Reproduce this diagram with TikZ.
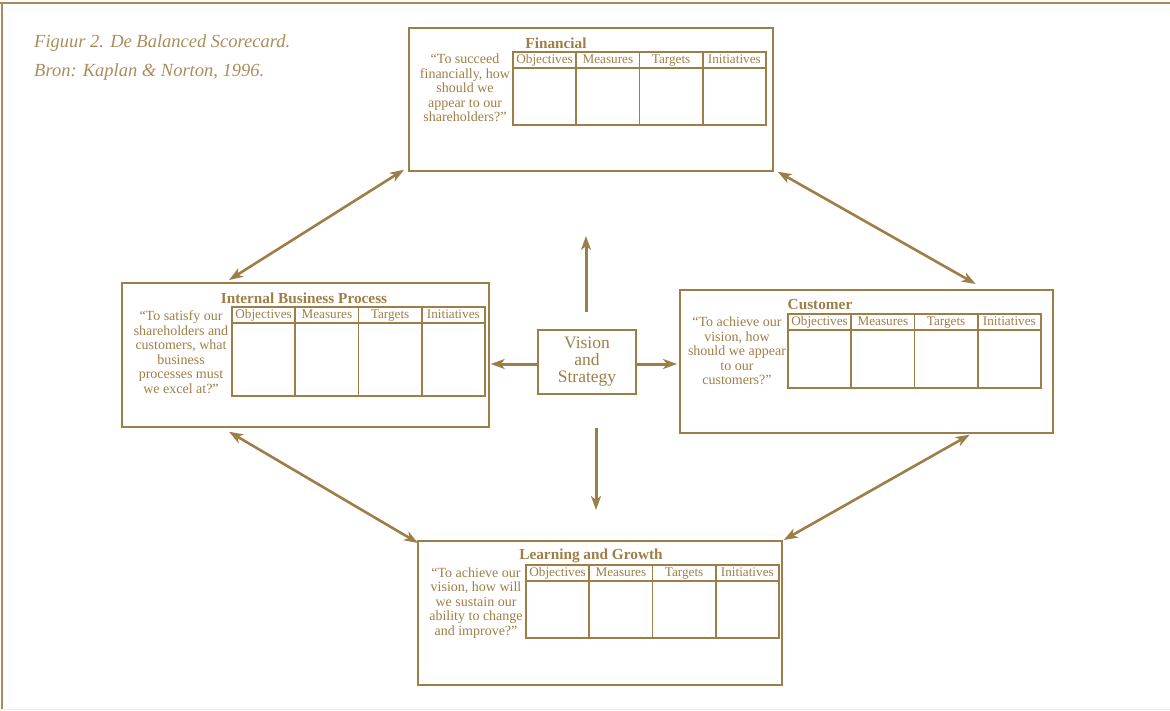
\documentclass[tikz,border=0pt]{standalone}
\usepackage{fontspec}
\setmainfont{Liberation Serif}
\definecolor{ScoreColor}{RGB}{158,126,72}
\definecolor{CaptionColor}{RGB}{170,140,92}
\usepackage{tikz}
\usetikzlibrary{arrows.meta, positioning, calc}
\tikzstyle{arrow} = [line width=3pt, ScoreColor, -{Stealth[length=14pt, width=10pt, inset=4pt]}]
\tikzstyle{dblarrow} = [line width=2.6pt, ScoreColor, {Stealth[length=14pt, width=10pt, inset=4pt]}-{Stealth[length=14pt, width=10pt, inset=4pt]}]
\tikzstyle{cardbox} = [draw=ScoreColor, line width=1.7pt, rectangle, anchor=north west, inner sep=0pt]
\tikzstyle{cardtitle} = [font=\fontsize{15.3}{17}\selectfont\bfseries, text=ScoreColor, inner sep=0pt]
\tikzstyle{question} = [align=center, font=\fontsize{14}{14.5}\selectfont, text=ScoreColor, inner sep=0pt]
\tikzstyle{gridline} = [draw=ScoreColor, line width=1.7pt]
\tikzstyle{gridhead} = [font=\fontsize{13.2}{15}\selectfont, text=ScoreColor, inner sep=0pt, text height=9pt, text depth=2.5pt]
\tikzstyle{caption} = [font=\fontsize{18.5}{21}\selectfont\itshape, text=CaptionColor, anchor=west, inner sep=0pt]
\tikzstyle{visionbox} = [draw=ScoreColor, line width=1.7pt, minimum width=98pt, minimum height=64pt, align=center, font=\fontsize{17.5}{17}\selectfont, text=ScoreColor, inner sep=0pt]

% table with four columns: name, x, y, body height
\newcommand{\cardgrid}[4]{%
  \draw[gridline] (#2,#3) rectangle ++(253,16+#4);
  \draw[gridline] (#2,#3+16) -- ++(253,0);
  \foreach \col [count=\i from 0] in {Objectives,Measures,Targets,Initiatives} {
    \ifnum\i>0 \draw[gridline] (#2+63.25*\i,#3) -- ++(0,16+#4); \fi
    \node[gridhead] (#1-h\i) at (#2+31.6+63.25*\i,#3+8.5) {\col};
  }}

\begin{document}
\begin{tikzpicture}[x=1pt, y=-1pt]
  \useasboundingbox (0,0) rectangle (1170,710);

  % frame
  \draw[CaptionColor, line width=1.5pt] (0,3) -- (1170,3);
  \draw[CaptionColor, line width=1.5pt] (2,3) -- (2,710);
  \draw[gray!15, line width=1pt] (0,709) -- (1170,709);

  % caption
  \node[caption] (figtitle) at (34,43) {Figuur 2. De Balanced Scorecard.};
  \node[caption] (figsource) at (34,72) {Bron: Kaplan \& Norton, 1996.};

  % financial
  \node[cardbox, minimum width=364pt, minimum height=143pt] (fin) at (408,27) {};
  \node[cardtitle] (fintitle) at (556,43) {Financial};
  \node[question] (finq) at (465,88) {“To succeed\\financially, how\\should we\\appear to our\\shareholders?”};
  \cardgrid{fin}{513}{52}{57}

  % internal business process
  \node[cardbox, minimum width=367pt, minimum height=144pt] (ibp) at (121,282) {};
  \node[cardtitle] (ibptitle) at (304,298) {Internal Business Process};
  \node[question] (ibpq) at (181,352) {“To satisfy our\\shareholders and\\customers, what\\business\\processes must\\we excel at?”};
  \cardgrid{ibp}{232}{307}{73}

  % customer
  \node[cardbox, minimum width=373pt, minimum height=143pt] (cus) at (679,289) {};
  \node[cardtitle] (custitle) at (820,305) {Customer};
  \node[question] (cusq) at (737,351) {“To achieve our\\vision, how\\should we appear\\to our\\customers?”};
  \cardgrid{cus}{788}{314}{58}

  % learning and growth
  \node[cardbox, minimum width=364pt, minimum height=144pt] (lg) at (417,540) {};
  \node[cardtitle] (lgtitle) at (591,556) {Learning and Growth};
  \node[question] (lgq) at (476,603) {“To achieve our\\vision, how will\\we sustain our\\ability to change\\and improve?”};
  \cardgrid{lg}{526}{565}{57}

  % vision and strategy
  \node[visionbox] (vis) at (587,362) {Vision\\and\\Strategy};
  \coordinate (upend) at (586,236);
  \coordinate (downend) at (596,510);
  \draw[arrow] ($(vis.north)+(-1,-17)$) -- (upend);
  \draw[arrow] ($(vis.south)+(9,33)$) -- (downend);
  \draw[arrow] ($(vis.west)+(0,2)$) -- ($(vis.west -| ibp.east)+(1,2)$);
  \draw[arrow] ($(vis.east)+(0,2)$) -- ($(vis.east -| cus.west)+(-2,2)$);

  % links between perspectives
  \draw[dblarrow] ($(fin.south west)+(-4,-2)$) -- ($(ibp.north west)+(108,-2)$);
  \draw[dblarrow] ($(fin.south east)+(4,0)$) -- ($(cus.north east)+(-78,-5)$);
  \draw[dblarrow] ($(ibp.south west)+(108,4)$) -- ($(lg.north west)+(1,3)$);
  \draw[dblarrow] ($(lg.north east)+(1,0)$) -- ($(cus.south east)+(-84,1)$);
\end{tikzpicture}
\end{document}
